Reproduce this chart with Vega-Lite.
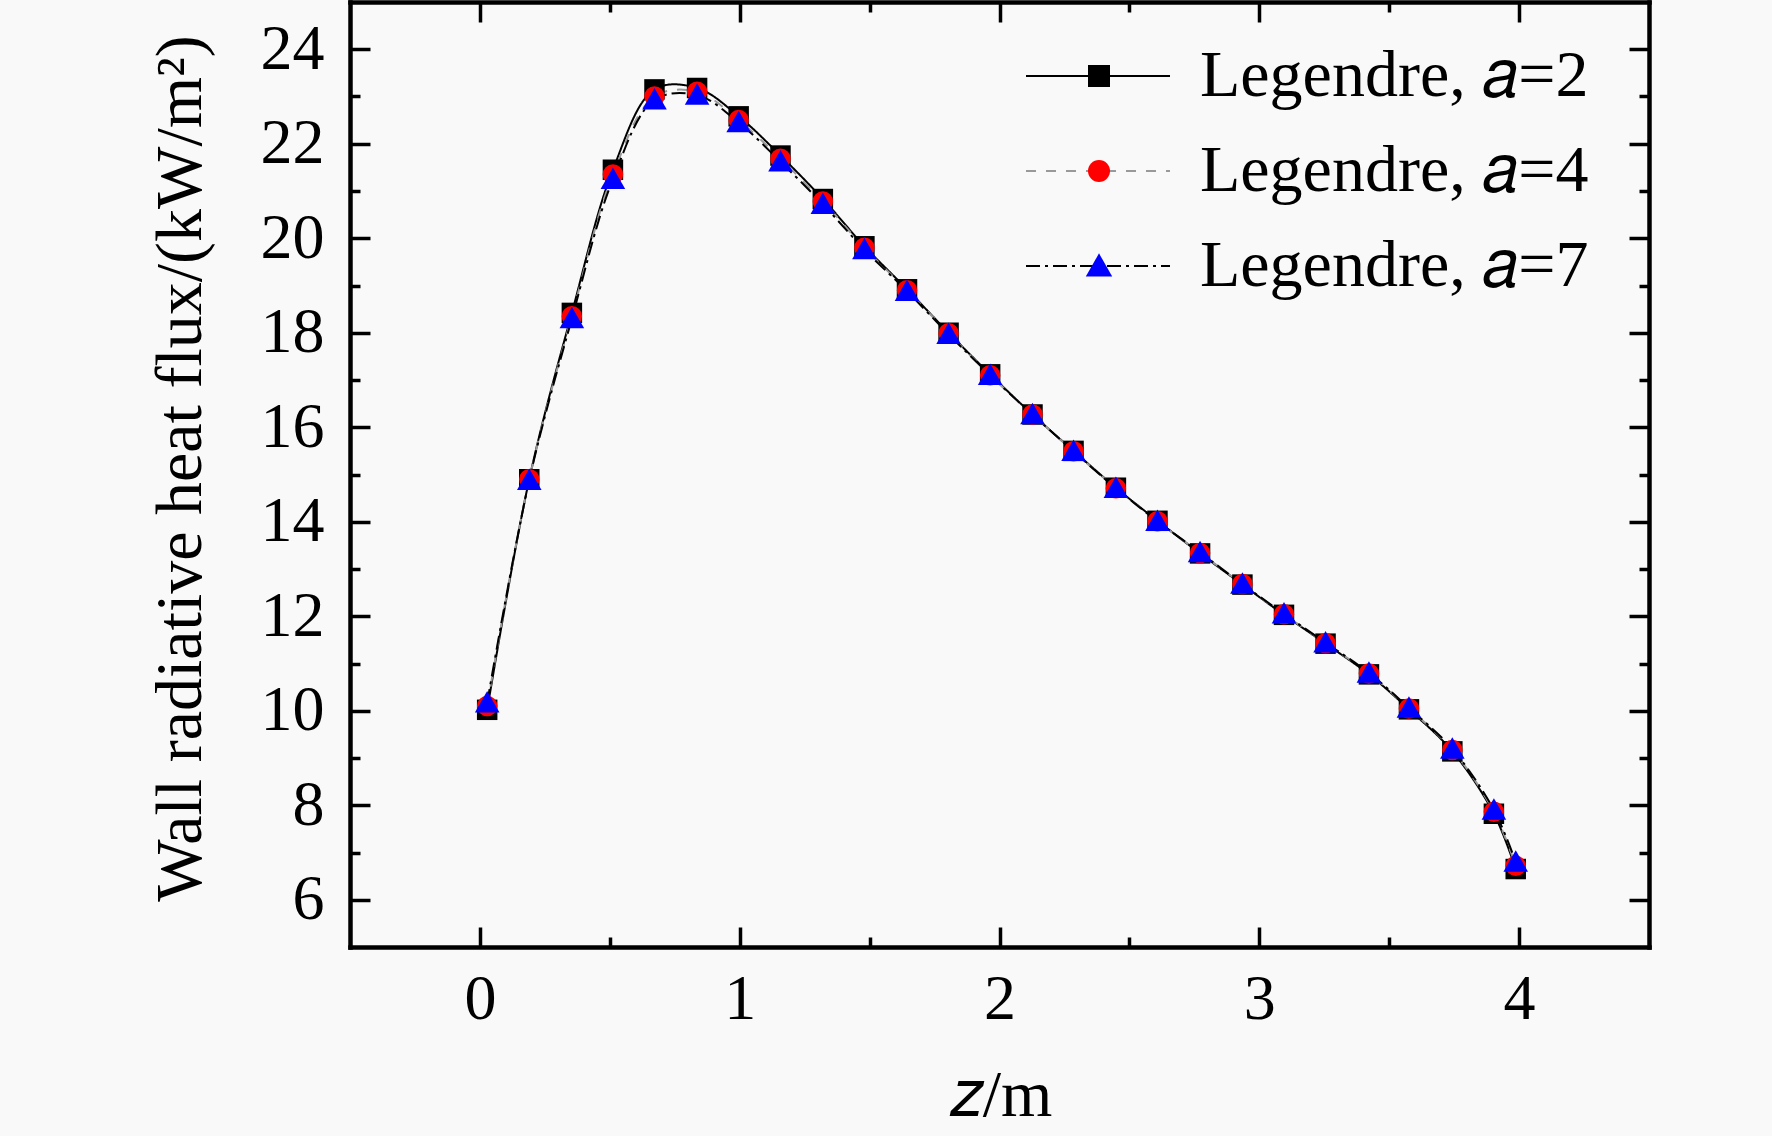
{
  "$schema": "https://vega.github.io/schema/vega-lite/v6.json",
  "width": 1299,
  "height": 945,
  "autosize": "none",
  "padding": {"left": 350, "top": 2, "right": 123, "bottom": 189},
  "background": "#f9f9f9",
  "config": {
    "view": {"stroke": null},
    "font": "Liberation Serif",
    "axis": {
      "labelFont": "Liberation Serif",
      "labelFontSize": 64,
      "labelColor": "black",
      "labelOverlap": false,
      "labelBound": false,
      "labelFlush": false,
      "titleFont": "Liberation Serif",
      "titleFontSize": 66,
      "titleFontWeight": "normal",
      "titleColor": "black",
      "domainColor": "black",
      "domainWidth": 4.5,
      "domainCap": "square",
      "ticks": true,
      "tickColor": "black",
      "tickWidth": 3.5,
      "grid": false
    },
    "legend": {
      "labelFont": "Liberation Serif",
      "labelFontSize": 66,
      "labelLimit": 0,
      "padding": 0
    }
  },
  "data": {
    "values": [
      {"z": 0.028, "q": 10.02, "series": "Legendre, 𝑎=2"},
      {"z": 0.19, "q": 14.9, "series": "Legendre, 𝑎=2"},
      {"z": 0.354, "q": 18.42, "series": "Legendre, 𝑎=2"},
      {"z": 0.512, "q": 21.45, "series": "Legendre, 𝑎=2"},
      {"z": 0.672, "q": 23.15, "series": "Legendre, 𝑎=2"},
      {"z": 0.836, "q": 23.18, "series": "Legendre, 𝑎=2"},
      {"z": 0.996, "q": 22.58, "series": "Legendre, 𝑎=2"},
      {"z": 1.157, "q": 21.75, "series": "Legendre, 𝑎=2"},
      {"z": 1.32, "q": 20.83, "series": "Legendre, 𝑎=2"},
      {"z": 1.48, "q": 19.83, "series": "Legendre, 𝑎=2"},
      {"z": 1.644, "q": 18.92, "series": "Legendre, 𝑎=2"},
      {"z": 1.804, "q": 18.0, "series": "Legendre, 𝑎=2"},
      {"z": 1.964, "q": 17.12, "series": "Legendre, 𝑎=2"},
      {"z": 2.127, "q": 16.27, "series": "Legendre, 𝑎=2"},
      {"z": 2.285, "q": 15.5, "series": "Legendre, 𝑎=2"},
      {"z": 2.448, "q": 14.72, "series": "Legendre, 𝑎=2"},
      {"z": 2.608, "q": 14.02, "series": "Legendre, 𝑎=2"},
      {"z": 2.772, "q": 13.33, "series": "Legendre, 𝑎=2"},
      {"z": 2.935, "q": 12.67, "series": "Legendre, 𝑎=2"},
      {"z": 3.095, "q": 12.03, "series": "Legendre, 𝑎=2"},
      {"z": 3.255, "q": 11.42, "series": "Legendre, 𝑎=2"},
      {"z": 3.422, "q": 10.77, "series": "Legendre, 𝑎=2"},
      {"z": 3.576, "q": 10.03, "series": "Legendre, 𝑎=2"},
      {"z": 3.743, "q": 9.14, "series": "Legendre, 𝑎=2"},
      {"z": 3.903, "q": 7.82, "series": "Legendre, 𝑎=2"},
      {"z": 3.987, "q": 6.65, "series": "Legendre, 𝑎=2"},
      {"z": 0.028, "q": 10.1, "series": "Legendre, 𝑎=4"},
      {"z": 0.19, "q": 14.9, "series": "Legendre, 𝑎=4"},
      {"z": 0.354, "q": 18.35, "series": "Legendre, 𝑎=4"},
      {"z": 0.512, "q": 21.35, "series": "Legendre, 𝑎=4"},
      {"z": 0.672, "q": 23.0, "series": "Legendre, 𝑎=4"},
      {"z": 0.836, "q": 23.1, "series": "Legendre, 𝑎=4"},
      {"z": 0.996, "q": 22.5, "series": "Legendre, 𝑎=4"},
      {"z": 1.157, "q": 21.68, "series": "Legendre, 𝑎=4"},
      {"z": 1.32, "q": 20.78, "series": "Legendre, 𝑎=4"},
      {"z": 1.48, "q": 19.8, "series": "Legendre, 𝑎=4"},
      {"z": 1.644, "q": 18.9, "series": "Legendre, 𝑎=4"},
      {"z": 1.804, "q": 17.99, "series": "Legendre, 𝑎=4"},
      {"z": 1.964, "q": 17.1, "series": "Legendre, 𝑎=4"},
      {"z": 2.127, "q": 16.27, "series": "Legendre, 𝑎=4"},
      {"z": 2.285, "q": 15.49, "series": "Legendre, 𝑎=4"},
      {"z": 2.448, "q": 14.71, "series": "Legendre, 𝑎=4"},
      {"z": 2.608, "q": 14.01, "series": "Legendre, 𝑎=4"},
      {"z": 2.772, "q": 13.34, "series": "Legendre, 𝑎=4"},
      {"z": 2.935, "q": 12.68, "series": "Legendre, 𝑎=4"},
      {"z": 3.095, "q": 12.04, "series": "Legendre, 𝑎=4"},
      {"z": 3.255, "q": 11.43, "series": "Legendre, 𝑎=4"},
      {"z": 3.422, "q": 10.79, "series": "Legendre, 𝑎=4"},
      {"z": 3.576, "q": 10.05, "series": "Legendre, 𝑎=4"},
      {"z": 3.743, "q": 9.17, "series": "Legendre, 𝑎=4"},
      {"z": 3.903, "q": 7.86, "series": "Legendre, 𝑎=4"},
      {"z": 3.987, "q": 6.72, "series": "Legendre, 𝑎=4"},
      {"z": 0.028, "q": 10.17, "series": "Legendre, 𝑎=7"},
      {"z": 0.19, "q": 14.88, "series": "Legendre, 𝑎=7"},
      {"z": 0.354, "q": 18.3, "series": "Legendre, 𝑎=7"},
      {"z": 0.512, "q": 21.25, "series": "Legendre, 𝑎=7"},
      {"z": 0.672, "q": 22.93, "series": "Legendre, 𝑎=7"},
      {"z": 0.836, "q": 23.03, "series": "Legendre, 𝑎=7"},
      {"z": 0.996, "q": 22.45, "series": "Legendre, 𝑎=7"},
      {"z": 1.157, "q": 21.62, "series": "Legendre, 𝑎=7"},
      {"z": 1.32, "q": 20.72, "series": "Legendre, 𝑎=7"},
      {"z": 1.48, "q": 19.76, "series": "Legendre, 𝑎=7"},
      {"z": 1.644, "q": 18.88, "series": "Legendre, 𝑎=7"},
      {"z": 1.804, "q": 17.97, "series": "Legendre, 𝑎=7"},
      {"z": 1.964, "q": 17.1, "series": "Legendre, 𝑎=7"},
      {"z": 2.127, "q": 16.27, "series": "Legendre, 𝑎=7"},
      {"z": 2.285, "q": 15.49, "series": "Legendre, 𝑎=7"},
      {"z": 2.448, "q": 14.71, "series": "Legendre, 𝑎=7"},
      {"z": 2.608, "q": 14.01, "series": "Legendre, 𝑎=7"},
      {"z": 2.772, "q": 13.35, "series": "Legendre, 𝑎=7"},
      {"z": 2.935, "q": 12.68, "series": "Legendre, 𝑎=7"},
      {"z": 3.095, "q": 12.05, "series": "Legendre, 𝑎=7"},
      {"z": 3.255, "q": 11.44, "series": "Legendre, 𝑎=7"},
      {"z": 3.422, "q": 10.8, "series": "Legendre, 𝑎=7"},
      {"z": 3.576, "q": 10.06, "series": "Legendre, 𝑎=7"},
      {"z": 3.743, "q": 9.19, "series": "Legendre, 𝑎=7"},
      {"z": 3.903, "q": 7.9, "series": "Legendre, 𝑎=7"},
      {"z": 3.987, "q": 6.8, "series": "Legendre, 𝑎=7"}
    ]
  },
  "layer": [
    {
      "mark": {"type": "line", "interpolate": "catmull-rom", "strokeWidth": 2},
      "encoding": {
        "x": {
          "field": "z",
          "type": "quantitative",
          "scale": {"domain": [-0.5, 4.5], "nice": false, "zero": false},
          "axis": {
            "orient": "bottom",
            "values": [0, 0.5, 1, 1.5, 2, 2.5, 3, 3.5, 4],
            "labelExpr": "datum.value % 1 === 0 ? format(datum.value, 'd') : ''",
            "tickSize": {"condition": {"test": "datum.value % 1 === 0", "value": -20}, "value": -10},
            "labelPadding": 40,
            "title": "𝑧/m",
            "titleX": 650,
            "titleY": 168,
            "titleBaseline": "alphabetic",
            "titleAlign": "center"
          }
        },
        "y": {
          "field": "q",
          "type": "quantitative",
          "scale": {"domain": [5, 25], "nice": false, "zero": false},
          "axis": {
            "orient": "left",
            "values": [6, 7, 8, 9, 10, 11, 12, 13, 14, 15, 16, 17, 18, 19, 20, 21, 22, 23, 24],
            "labelExpr": "datum.value % 2 === 0 ? datum.label : ''",
            "tickSize": {"condition": {"test": "datum.value % 2 === 0", "value": -20}, "value": -10},
            "labelPadding": 46,
            "title": "Wall radiative heat flux/(kW/m²)",
            "titleAngle": -90,
            "titleX": -150,
            "titleY": 466,
            "titleBaseline": "alphabetic",
            "titleAlign": "center"
          }
        },
        "stroke": {
          "field": "series",
          "type": "nominal",
          "scale": {"range": ["black", "#999999", "black"]},
          "legend": {
            "orient": "none",
            "legendX": 675,
            "legendY": 39,
            "title": null,
            "symbolType": "stroke",
            "symbolSize": 20736,
            "symbolStrokeWidth": 2,
            "clipHeight": 70,
            "rowPadding": 25,
            "labelOffset": 29,
            "labelColor": "black"
          }
        },
        "strokeDash": {
          "field": "series",
          "type": "nominal",
          "scale": {"range": [[1, 0], [10, 10], [14, 5, 3, 5]]},
          "legend": {
            "orient": "none",
            "legendX": 675,
            "legendY": 39,
            "title": null,
            "symbolType": "stroke",
            "symbolSize": 20736,
            "symbolStrokeWidth": 2,
            "clipHeight": 70,
            "rowPadding": 25,
            "labelOffset": 29,
            "labelColor": "black"
          }
        }
      }
    },
    {
      "mark": {"type": "point", "filled": true, "opacity": 1, "strokeWidth": 0, "size": 420},
      "encoding": {
        "x": {
          "field": "z",
          "type": "quantitative",
          "scale": {"domain": [-0.5, 4.5], "nice": false, "zero": false},
          "axis": {
            "orient": "top",
            "values": [0, 0.5, 1, 1.5, 2, 2.5, 3, 3.5, 4],
            "tickSize": {"condition": {"test": "datum.value % 1 === 0", "value": -20}, "value": -10},
            "labels": false,
            "title": null
          }
        },
        "y": {
          "field": "q",
          "type": "quantitative",
          "scale": {"domain": [5, 25], "nice": false, "zero": false},
          "axis": {
            "orient": "right",
            "values": [6, 7, 8, 9, 10, 11, 12, 13, 14, 15, 16, 17, 18, 19, 20, 21, 22, 23, 24],
            "tickSize": {"condition": {"test": "datum.value % 2 === 0", "value": -20}, "value": -10},
            "labels": false,
            "title": null
          }
        },
        "fill": {
          "field": "series",
          "type": "nominal",
          "scale": {"range": ["black", "red", "blue"]},
          "legend": {
            "orient": "none",
            "legendX": 675,
            "legendY": 39,
            "title": null,
            "symbolSize": 484,
            "symbolStrokeWidth": 0,
            "symbolOffset": 41,
            "clipHeight": 70,
            "rowPadding": 25,
            "labelOffset": 29,
            "labelExpr": "''"
          }
        },
        "shape": {
          "field": "series",
          "type": "nominal",
          "scale": {"range": ["square", "circle", "M0,-1.15L1.2,0.95L-1.2,0.95Z"]},
          "legend": {
            "orient": "none",
            "legendX": 675,
            "legendY": 39,
            "title": null,
            "symbolSize": 484,
            "symbolStrokeWidth": 0,
            "symbolOffset": 41,
            "clipHeight": 70,
            "rowPadding": 25,
            "labelOffset": 29,
            "labelExpr": "''"
          }
        }
      }
    }
  ],
  "resolve": {
    "axis": {"x": "independent", "y": "independent"},
    "legend": {"stroke": "independent", "strokeDash": "independent", "fill": "independent", "shape": "independent"}
  }
}
